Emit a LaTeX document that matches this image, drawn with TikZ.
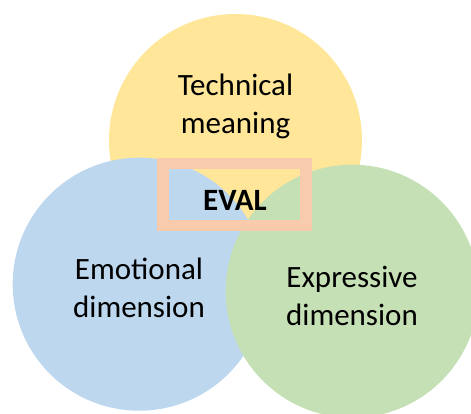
\documentclass[tikz,border=0pt]{standalone}
\usepackage{fontspec}
\setmainfont{Carlito}
\definecolor{cyellow}{HTML}{FFE699}
\definecolor{cblue}{HTML}{BDD7EE}
\definecolor{cgreen}{HTML}{C5E0B4}
\definecolor{cpeach}{HTML}{F8CBAD}
\begin{document}
\begin{tikzpicture}[x=1pt,y=-1pt,
  disc/.style={circle, minimum size=253pt, inner sep=0pt, draw=none},
  lbl/.style={align=center, font=\fontsize{31}{38}\selectfont, inner sep=0pt}]
\useasboundingbox (0,0) rectangle (471,413);
\node[disc, fill=cyellow] (tech) at (235.5,140.5) {};
\node[disc, fill=cblue] (emo) at (139.2,284.2) {};
\node[disc, fill=cgreen] (expr) at (352.2,291.2) {};
\node[draw=cpeach, line width=11.5pt, minimum width=143pt, minimum height=61.8pt, inner sep=0pt] (evalbox) at (234.5,194.6) {};
\node[lbl] (techtxt) at (235.5,106) {Technical\\meaning};
\node[lbl] (emotxt) at (139,288) {Emotional\\dimension};
\node[lbl] (exprtxt) at (352,295.5) {Expressive\\dimension};
\node[font=\fontsize{31}{38}\selectfont\bfseries, inner sep=0pt, anchor=base] (evaltxt) at (235,210) {EVAL};
\end{tikzpicture}
\end{document}
